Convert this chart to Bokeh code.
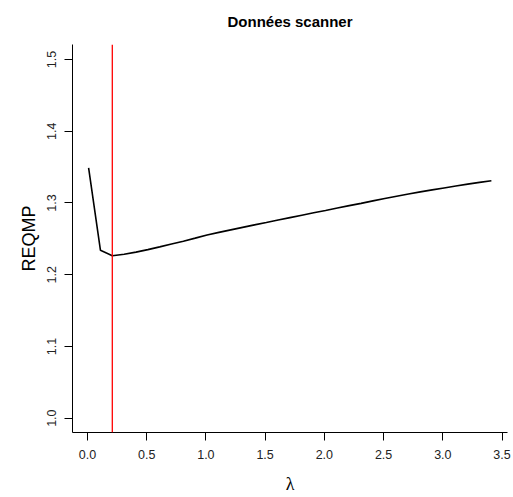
from bokeh.plotting import figure
from bokeh.models import Range1d, FixedTicker, PrintfTickFormatter, Span
from bokeh.embed import file_html
from bokeh.resources import INLINE

# Data
lam = [0.01, 0.11, 0.21, 0.31, 0.41, 0.51, 0.61, 0.71, 0.81, 0.91,
       1.01, 1.11, 1.21, 1.31, 1.41, 1.51, 1.61, 1.71, 1.81, 1.91,
       2.01, 2.11, 2.21, 2.31, 2.41, 2.51, 2.61, 2.71, 2.81, 2.91,
       3.01, 3.11, 3.21, 3.31, 3.41]
reqmp = [1.349, 1.234, 1.2265, 1.2285, 1.2315, 1.2350, 1.2388, 1.2428, 1.2468, 1.2510,
         1.2555, 1.2590, 1.2625, 1.2660, 1.2695, 1.2728, 1.2762, 1.2796, 1.2830, 1.2863,
         1.2896, 1.2930, 1.2963, 1.2995, 1.3030, 1.3063, 1.3095, 1.3125, 1.3155, 1.3183,
         1.3210, 1.3237, 1.3263, 1.3287, 1.3310]
lam_opt = 0.21
x_ticks = [0.0, 0.5, 1.0, 1.5, 2.0, 2.5, 3.0, 3.5]
y_ticks = [1.0, 1.1, 1.2, 1.3, 1.4, 1.5]
title_text = "Données scanner"

FONT = "Liberation Sans"

p = figure(width=513, height=497, output_backend="svg", toolbar_location=None,
           x_range=Range1d(-0.126, 3.546), y_range=Range1d(0.98, 1.521),
           min_border_left=72, min_border_right=6, min_border_top=44, min_border_bottom=65,
           background_fill_color="white", border_fill_color="white")

p.title.text = title_text
p.title.align = "center"
p.title.vertical_align = "top"
p.title.text_font = FONT
p.title.text_font_size = "15px"
p.title.text_font_style = "bold"
p.title.text_color = "black"
p.title.standoff = 25

p.outline_line_color = None
p.xgrid.visible = False
p.ygrid.visible = False

p.line(lam, reqmp, line_color="black", line_width=1.6)
p.add_layout(Span(location=lam_opt, dimension="height", line_color="red", line_width=1.3))

for ax in (p.xaxis[0], p.yaxis[0]):
    ax.axis_line_color = "black"
    ax.axis_line_width = 1
    ax.major_tick_line_color = "black"
    ax.major_tick_out = 8
    ax.major_tick_in = 0
    ax.minor_tick_line_color = None
    ax.major_label_text_font = FONT
    ax.major_label_text_font_size = "12.5px"
    ax.major_label_text_color = "#222222"
    ax.formatter = PrintfTickFormatter(format="%.1f")
    ax.axis_label_text_font_style = "normal"
    ax.axis_label_text_color = "black"

p.xaxis[0].ticker = FixedTicker(ticks=x_ticks)
p.yaxis[0].ticker = FixedTicker(ticks=y_ticks)
p.xaxis[0].major_label_standoff = 9
p.yaxis[0].major_label_standoff = 8
p.yaxis[0].major_label_orientation = "vertical"

p.xaxis[0].axis_label = "λ"
p.xaxis[0].axis_label_text_font = "Liberation Serif"
p.xaxis[0].axis_label_text_font_size = "18px"
p.xaxis[0].axis_label_standoff = 12

p.yaxis[0].axis_label = "REQMP"
p.yaxis[0].axis_label_text_font = FONT
p.yaxis[0].axis_label_text_font_size = "18px"
p.yaxis[0].axis_label_standoff = 6

open("out.html", "w").write(file_html(p, INLINE))
